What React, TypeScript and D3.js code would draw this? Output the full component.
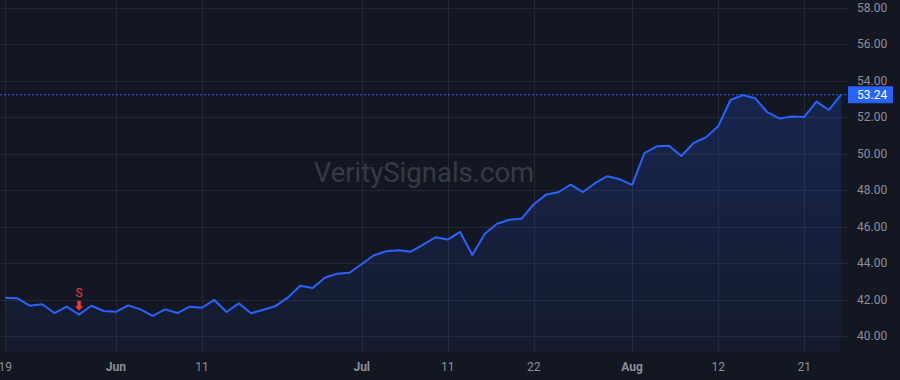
import React from "react";
import * as d3 from "d3";

const dates: string[] = [
  "2025-05-19","2025-05-20","2025-05-21","2025-05-22","2025-05-23","2025-05-27","2025-05-28","2025-05-29","2025-05-30",
  "2025-06-02","2025-06-03","2025-06-04","2025-06-05","2025-06-06","2025-06-09","2025-06-10","2025-06-11","2025-06-12",
  "2025-06-13","2025-06-16","2025-06-17","2025-06-18","2025-06-20","2025-06-23","2025-06-24","2025-06-25","2025-06-26",
  "2025-06-27","2025-06-30","2025-07-01","2025-07-02","2025-07-03","2025-07-07","2025-07-08","2025-07-09","2025-07-10",
  "2025-07-11","2025-07-14","2025-07-15","2025-07-16","2025-07-17","2025-07-18","2025-07-21","2025-07-22","2025-07-23",
  "2025-07-24","2025-07-25","2025-07-28","2025-07-29","2025-07-30","2025-07-31","2025-08-01","2025-08-04","2025-08-05",
  "2025-08-06","2025-08-07","2025-08-08","2025-08-11","2025-08-12","2025-08-13","2025-08-14","2025-08-15","2025-08-18",
  "2025-08-19","2025-08-20","2025-08-21","2025-08-22","2025-08-25","2025-08-26",
];

const prices: number[] = [
  42.10, 42.07, 41.66, 41.74, 41.26, 41.61, 41.17, 41.66, 41.37,
  41.33, 41.68, 41.46, 41.11, 41.46, 41.26, 41.61, 41.55, 41.98,
  41.32, 41.79, 41.25, 41.44, 41.65, 42.12, 42.76, 42.63, 43.20,
  43.42, 43.47, 43.95, 44.43, 44.65, 44.70, 44.63, 45.01, 45.42,
  45.29, 45.71, 44.45, 45.60, 46.16, 46.38, 46.44, 47.23, 47.76,
  47.89, 48.31, 47.90, 48.40, 48.77, 48.60, 48.29, 50.04, 50.41,
  50.44, 49.88, 50.59, 50.90, 51.51, 52.95, 53.22, 53.05, 52.28,
  51.93, 52.04, 52.02, 52.86, 52.40, 53.24,
];

const xTickDates: string[] = ["2025-05-19","2025-06-02","2025-06-11","2025-07-01","2025-07-11","2025-07-22","2025-08-01","2025-08-12","2025-08-21"];
const xTickLabels: string[] = ["19","Jun","11","Jul","11","22","Aug","12","21"];
const xTickIsMonth: boolean[] = [false,true,false,true,false,false,true,false,false];

const yTicks: number[] = [40, 42, 44, 46, 48, 50, 52, 54, 56, 58];

const signalDates: string[] = ["2025-05-28"];
const signalLabels: string[] = ["S"];

const lastPrice = 53.24;
const watermark = "VeritySignals.com";

const W = 900;
const H = 380;
const plotRight = 848;
const plotBottom = 352;
const FONT = "-apple-system, BlinkMacSystemFont, 'Trebuchet MS', Roboto, Ubuntu, sans-serif";

export default function App() {
  const x = d3.scaleLinear().domain([0, dates.length - 1]).range([5.3, 841.1]);
  const y = d3.scaleLinear().domain([40, 58]).range([336, 8]);
  const data = prices.map((p, i) => ({ i, p }));

  const line = d3.line<{ i: number; p: number }>().x(d => x(d.i)).y(d => y(d.p));
  const area = d3.area<{ i: number; p: number }>().x(d => x(d.i)).y0(plotBottom).y1(d => y(d.p));

  const bg = "#131722";
  const grid = "#242835";
  const blue = "#2962ff";
  const red = "#f23645";

  return (
    <svg width={W} height={H} style={{ position: "absolute", left: 0, top: 0, background: bg }} fontFamily={FONT}>
      <defs>
        <linearGradient id="fillGrad" x1="0" y1={y(53.3)} x2="0" y2={plotBottom} gradientUnits="userSpaceOnUse">
          <stop offset="0%" stopColor={blue} stopOpacity={0.2} />
          <stop offset="100%" stopColor={blue} stopOpacity={0.05} />
        </linearGradient>
      </defs>
      <rect x={0} y={0} width={W} height={H} fill={bg} />
      {yTicks.map(t => (
        <line key={"gy" + t} x1={0} x2={plotRight} y1={Math.round(y(t)) + 0.5} y2={Math.round(y(t)) + 0.5} stroke={grid} strokeWidth={1} />
      ))}
      {xTickDates.map((d, k) => {
        const xi = Math.round(x(dates.indexOf(d))) + 0.5;
        return <line key={"gx" + k} x1={xi} x2={xi} y1={0} y2={plotBottom} stroke={grid} strokeWidth={1} />;
      })}
      <text x={424} y={181.5} textAnchor="middle" fontSize={27.5} fill="#363a46" fontFamily="Roboto, 'Liberation Sans', sans-serif">{watermark}</text>
      <path d={area(data) || ""} fill="url(#fillGrad)" />
      <path d={line(data) || ""} fill="none" stroke={blue} strokeWidth={2} strokeLinejoin="round" />
      <line x1={0} x2={plotRight} y1={y(lastPrice)} y2={y(lastPrice)} stroke={blue} strokeWidth={1} strokeDasharray="2 2" />
      {signalDates.map((d, k) => {
        const i = dates.indexOf(d);
        const cx = x(i);
        const cy = y(prices[i]);
        const p = `M${cx - 1.8},${cy - 14} L${cx + 1.8},${cy - 14} L${cx + 1.8},${cy - 8.5} L${cx + 4.3},${cy - 8.5} L${cx},${cy - 4} L${cx - 4.3},${cy - 8.5} L${cx - 1.8},${cy - 8.5} Z`;
        return (
          <g key={"s" + k}>
            <text x={cx} y={cy - 17.5} textAnchor="middle" fontSize={12} fill={red}>{signalLabels[k]}</text>
            <path d={p} fill={red} />
          </g>
        );
      })}
      {yTicks.map(t => (
        <text key={"yl" + t} x={857} y={y(t) + 4} fontSize={12} fill="#8c8f99">{t.toFixed(2)}</text>
      ))}
      <rect x={848} y={y(lastPrice) - 8.5} width={45} height={17} fill={blue} rx={1} />
      <text x={857} y={y(lastPrice) + 4} fontSize={12} fill="#ffffff">{lastPrice.toFixed(2)}</text>
      {xTickDates.map((d, k) => (
        <text key={"xl" + k} x={x(dates.indexOf(d))} y={370.5} textAnchor="middle" fontSize={12}
          fontWeight={xTickIsMonth[k] ? 700 : 400} fill="#8c8f99">{xTickLabels[k]}</text>
      ))}
    </svg>
  );
}
